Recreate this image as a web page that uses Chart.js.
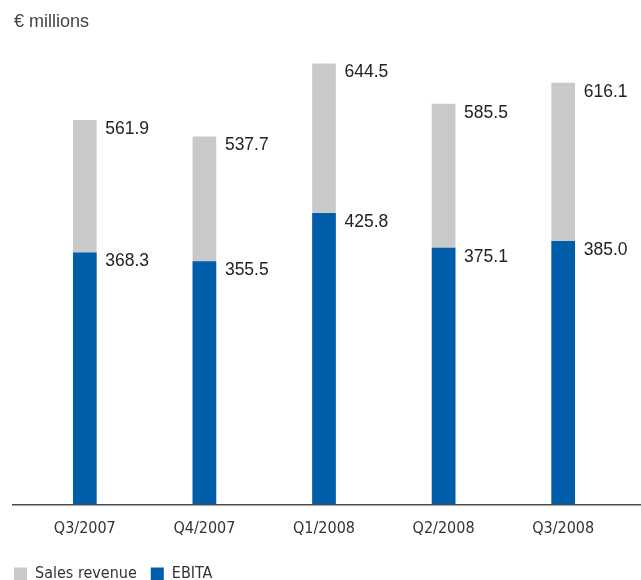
<!DOCTYPE html>
<html>
<head>
<meta charset="utf-8">
<script src="https://cdn.jsdelivr.net/npm/chart.js@4.4.0/dist/chart.umd.min.js"></script>
<style>
  html, body { margin: 0; padding: 0; background: #fff; }
  #wrap { position: relative; width: 641px; height: 580px; }
  #unit { position: absolute; left: 14px; top: 11px; font: 18px "Liberation Sans", Arial, sans-serif; color: #444; }
</style>
</head>
<body>
<div id="wrap">
  <div id="unit">€ millions</div>
  <canvas id="myChart" width="641" height="580"></canvas>
</div>
<script>
const quarters = ['Q3/2007', 'Q4/2007', 'Q1/2008', 'Q2/2008', 'Q3/2008'];
const salesRevenue = [561.9, 537.7, 644.5, 585.5, 616.1];
const ebita = [368.3, 355.5, 425.8, 375.1, 385.0];

const narrow = '"Liberation Sans Narrow", "Arial Narrow", "DejaVu Sans Condensed", sans-serif';

// value labels right of each bar, plus the long baseline
const barExtras = {
    id: 'barExtras',
    afterDatasetsDraw(chart) {
        const ctx = chart.ctx;
        const yZero = chart.scales.y.getPixelForValue(0);
        ctx.save();
        ctx.strokeStyle = '#4a4a4a';
        ctx.lineWidth = 1.5;
        ctx.beginPath();
        ctx.moveTo(12, yZero);
        ctx.lineTo(chart.width, yZero);
        ctx.stroke();

        ctx.font = '17.5px "Liberation Sans", Arial, sans-serif';
        ctx.fillStyle = '#222';
        ctx.textAlign = 'left';
        ctx.textBaseline = 'top';
        chart.data.datasets.forEach((ds, i) => {
            chart.getDatasetMeta(i).data.forEach((bar, j) => {
                ctx.fillText(ds.data[j].toFixed(1), bar.x + bar.width / 2 + 9, bar.y);
            });
        });
        ctx.restore();
    }
};

const ctx = document.getElementById('myChart').getContext('2d');
const chart = new Chart(ctx, {
    type: 'bar',
    data: {
        labels: quarters,
        datasets: [{
            label: 'EBITA',
            data: ebita,
            backgroundColor: '#005eaa',
            grouped: false,
            barThickness: 23
        }, {
            label: 'Sales revenue',
            data: salesRevenue,
            backgroundColor: '#c8c9cb',
            grouped: false,
            barThickness: 23
        }]
    },
    options: {
        responsive: false,
        animation: false,
        layout: {
            padding: { top: 60, right: 18, bottom: -12, left: 0 }
        },
        plugins: {
            legend: {
                position: 'bottom',
                align: 'start',
                reverse: true,
                labels: {
                    boxWidth: 13,
                    boxHeight: 13,
                    padding: 14,
                    color: '#333',
                    font: { family: narrow, size: 16 }
                }
            },
            tooltip: { enabled: false }
        },
        scales: {
            x: {
                grid: { display: false, drawTicks: false },
                border: { display: false },
                ticks: {
                    color: '#333',
                    padding: 14,
                    font: { family: narrow, size: 16 }
                }
            },
            y: {
                min: 0,
                max: 650,
                grid: { display: false, drawTicks: false },
                border: { display: false },
                ticks: { display: false },
                afterFit(scale) { scale.width = 25; }
            }
        }
    },
    plugins: [barExtras]
});
</script>
</body>
</html>
